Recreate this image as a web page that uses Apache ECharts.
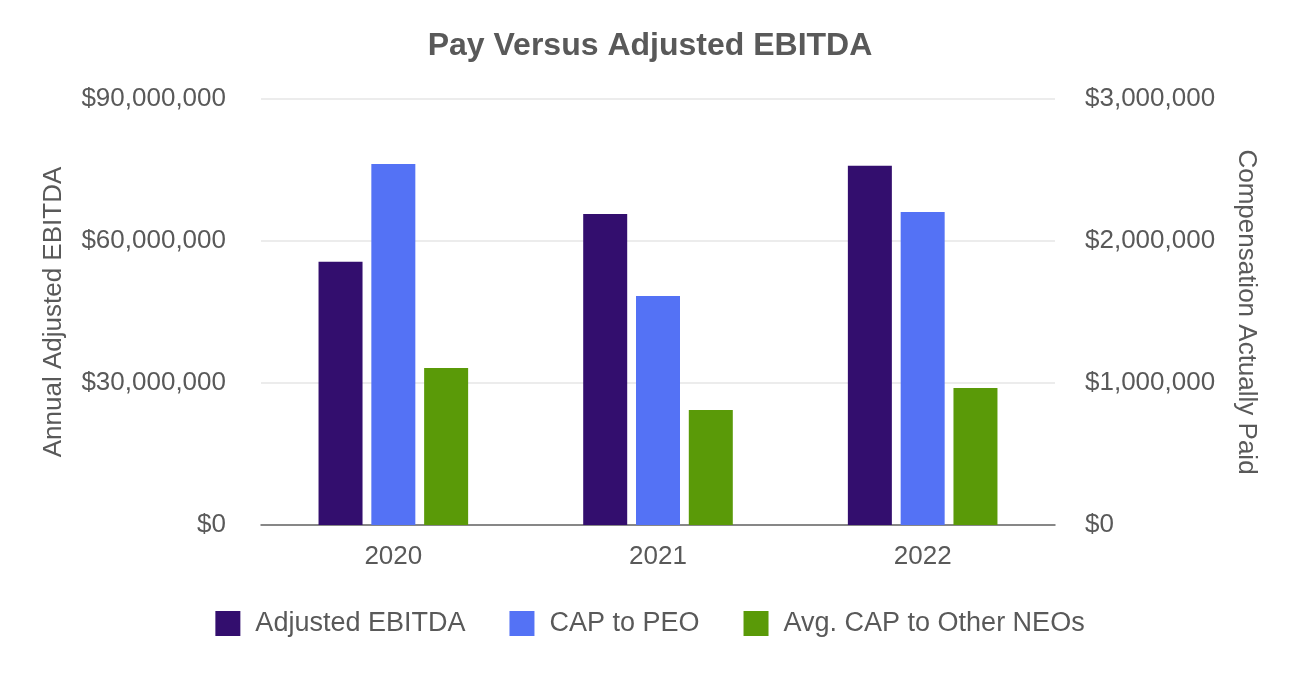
<!DOCTYPE html>
<html>
<head>
<meta charset="utf-8">
<script src="https://cdn.jsdelivr.net/npm/echarts@6/dist/echarts.min.js"></script>
<style>
html,body{margin:0;padding:0;background:#fff;}
#c{width:1300px;height:680px;}
</style>
</head>
<body>
<div id="c"></div>
<script>
var categories = ['2020', '2021', '2022'];
var seriesNames = ['Adjusted EBITDA', 'CAP to PEO', 'Avg. CAP to Other NEOs'];
var adjustedEbitda = [55600000, 65700000, 75900000];
var capToPeo = [2542000, 1613000, 2204000];
var avgCapOtherNeos = [1106000, 810000, 965000];
var leftTicks = [0, 30000000, 60000000, 90000000];
var rightTicks = [0, 1000000, 2000000, 3000000];

var FONT = '"Liberation Sans", Arial, sans-serif';
var TXT = '#595959';
function money(v){ return '$' + Math.round(v).toString().replace(/\B(?=(\d{3})+(?!\d))/g, ','); }

var chart = echarts.init(document.getElementById('c'));
chart.setOption({
  backgroundColor: '#ffffff',
  animation: false,
  textStyle: { fontFamily: FONT },
  title: {
    text: 'Pay Versus Adjusted EBITDA',
    left: 'center',
    top: 25,
    textStyle: { fontFamily: FONT, fontSize: 32, fontWeight: 'bold', color: TXT }
  },
  legend: {
    data: seriesNames,
    left: 'center',
    top: 605,
    itemWidth: 25,
    itemHeight: 25,
    itemGap: 44,
    icon: 'rect',
    textStyle: { fontFamily: FONT, fontSize: 27, color: TXT, padding: [0, 0, 0, 10] }
  },
  grid: { left: 261, right: 245, top: 99, bottom: 155 },
  xAxis: {
    type: 'category',
    data: categories,
    axisTick: { show: false },
    axisLine: { lineStyle: { color: '#666666', width: 1.5 } },
    axisLabel: { fontFamily: FONT, fontSize: 26, color: TXT, margin: 19 }
  },
  yAxis: [
    {
      type: 'value',
      min: leftTicks[0],
      max: leftTicks[leftTicks.length - 1],
      interval: leftTicks[1] - leftTicks[0],
      name: 'Annual Adjusted EBITDA',
      nameLocation: 'middle',
      nameGap: 194,
      nameTextStyle: { fontFamily: FONT, fontSize: 26, color: TXT },
      axisLine: { show: false },
      axisTick: { show: false },
      axisLabel: { fontFamily: FONT, fontSize: 26, color: TXT, margin: 35, formatter: money },
      splitLine: { lineStyle: { color: '#e6e6e6', width: 1.5 } }
    },
    {
      type: 'value',
      position: 'right',
      min: rightTicks[0],
      max: rightTicks[rightTicks.length - 1],
      interval: rightTicks[1] - rightTicks[0],
      name: 'Compensation Actually Paid',
      nameLocation: 'middle',
      nameRotate: -90,
      nameGap: 178,
      nameTextStyle: { fontFamily: FONT, fontSize: 26, color: TXT },
      axisLine: { show: false },
      axisTick: { show: false },
      axisLabel: { fontFamily: FONT, fontSize: 26, color: TXT, margin: 30, formatter: money },
      splitLine: { show: false }
    }
  ],
  series: [
    { name: seriesNames[0], type: 'bar', yAxisIndex: 0, data: adjustedEbitda, barWidth: 44, barGap: '20%', itemStyle: { color: '#330e6e' } },
    { name: seriesNames[1], type: 'bar', yAxisIndex: 1, data: capToPeo, barWidth: 44, barGap: '20%', itemStyle: { color: '#5472f5' } },
    { name: seriesNames[2], type: 'bar', yAxisIndex: 1, data: avgCapOtherNeos, barWidth: 44, barGap: '20%', itemStyle: { color: '#5a9a08' } }
  ]
});
</script>
</body>
</html>
